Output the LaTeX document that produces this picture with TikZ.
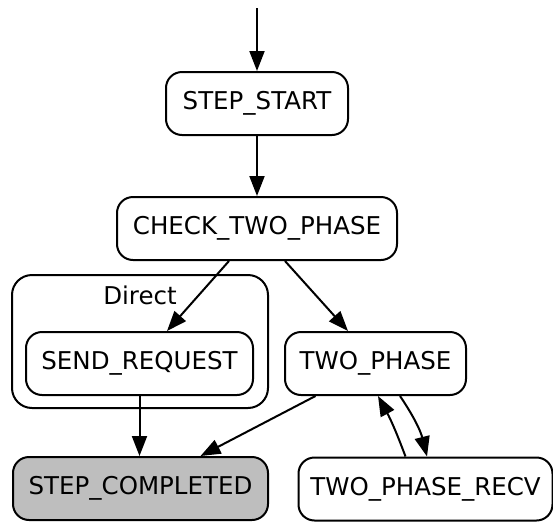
\documentclass[tikz,border=0pt]{standalone}
\usepackage{fontspec}
\setmainfont{DejaVu Sans}
\usetikzlibrary{arrows.meta}
\definecolor{donefill}{RGB}{190,190,190}
\tikzset{
  label font/.style={font=\fontsize{12.25}{14}\selectfont},
  state/.style={draw, line width=1pt, rounded corners=8pt, minimum height=31.5pt,
    inner sep=0pt, label font},
  flow/.style={line width=1pt, -{Triangle[length=10pt,width=7.5pt]}},
  cluster/.style={draw, line width=1pt, rounded corners=10pt}
}
\begin{document}
\begin{tikzpicture}[x=0.5pt,y=-0.5pt]
  \useasboundingbox (0,0) rectangle (553,521);
  % cluster "Direct"
  \draw[cluster] (12,275) rectangle (268,408);
  \node[label font] (directlbl) at (140,295) {Direct};
  % states
  \coordinate (init) at (257,8);
  \node[state, minimum width=91pt]   (start) at (257,103.5) {STEP\_START};
  \node[state, minimum width=140pt]  (check) at (257,228.5) {CHECK\_TWO\_PHASE};
  \node[state, minimum width=113.5pt](send)  at (139.5,363.5) {SEND\_REQUEST};
  \node[state, minimum width=90.5pt] (two)   at (375.5,363.5) {TWO\_PHASE};
  \node[state, minimum width=127.5pt, fill=donefill] (done) at (140.5,488.5) {STEP\_COMPLETED};
  \node[state, minimum width=127pt]  (recv)  at (425.5,489) {TWO\_PHASE\_RECV};
  % transitions
  \draw[flow] (init) -- (start.north);
  \draw[flow] (start.south) -- (check.north);
  \draw[flow] ([xshift=-14pt]check.south) -- ([xshift=13.75pt]send.north);
  \draw[flow] ([xshift=14pt]check.south) -- ([xshift=-13.75pt]two.north);
  \draw[flow] (send.south) -- (send.south |- done.north);
  \draw[flow] ([xshift=-30pt]two.south) -- ([xshift=30pt]done.north);
  \draw[flow] ([xshift=12.25pt]two.south) to[bend left=10] ([xshift=0.75pt]recv.north);
  \draw[flow] ([xshift=-10pt]recv.north) to[bend right=4] ([xshift=1.25pt]two.south);
\end{tikzpicture}
\end{document}
